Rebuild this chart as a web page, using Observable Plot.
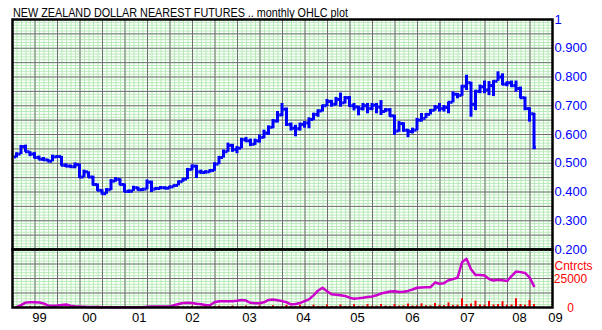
<!DOCTYPE html>
<html><head><meta charset="utf-8">
<script src="https://cdn.jsdelivr.net/npm/d3@7"></script>
<script src="https://cdn.jsdelivr.net/npm/@observablehq/plot@0.6"></script>
<style>
body{margin:0;background:#fff;}
#chart{position:relative;width:602px;height:330px;overflow:hidden;background:#fff;}
#title{position:absolute;left:13px;top:6px;font-size:13px;line-height:13px;white-space:nowrap;color:#000;
  font-family:"Liberation Sans",Arial,sans-serif;transform:scaleX(0.83);transform-origin:0 0;}
.panel{position:absolute;left:0;}
</style></head><body>
<div id="chart"><div id="title">NEW ZEALAND DOLLAR NEAREST FUTURES .. monthly OHLC plot</div></div>
<script>
// monthly bars, first bar = March 1999 (index 0), last = October 2008 (index 115)
const open = [.522,.532,.558,.540,.532,.520,.514,.512,.507,.522,
 .523,.493,.490,.488,.495,.452,.470,.452,.426,.406,
 .394,.408,.438,.444,.426,.402,.403,.415,.408,.410,
 .434,.410,.412,.415,.413,.418,.423,.436,.445,.478,
 .490,.470,.468,.470,.475,.497,.520,.540,.562,.548,
 .552,.582,.578,.566,.578,.590,.605,.625,.647,.668,
 .688,.635,.622,.620,.635,.640,.652,.670,.682,.700,
 .715,.705,.722,.710,.728,.700,.696,.690,.700,.690,
 .702,.695,.680,.686,.665,.612,.638,.615,.610,.615,
 .650,.656,.670,.684,.695,.690,.694,.712,.740,.736,
 .768,.780,.705,.750,.766,.755,.770,.785,.800,.775,
 .780,.770,.760,.728,.690,.672];
const high = [.536,.562,.563,.540,.537,.525,.520,.514,.528,.526,
 .524,.498,.494,.501,.497,.476,.470,.455,.428,.408,
 .412,.443,.450,.446,.428,.407,.420,.417,.412,.442,
 .438,.416,.419,.418,.420,.425,.438,.447,.482,.494,
 .493,.476,.474,.478,.502,.524,.546,.570,.566,.558,
 .587,.590,.584,.584,.598,.615,.630,.652,.680,.708,
 .692,.640,.632,.640,.645,.658,.674,.686,.702,.722,
 .719,.729,.744,.732,.732,.708,.698,.708,.708,.708,
 .708,.718,.690,.690,.667,.645,.641,.618,.622,.656,
 .673,.673,.687,.701,.708,.701,.713,.748,.743,.771,
 .806,.782,.754,.772,.786,.784,.787,.818,.811,.783,
 .786,.786,.765,.730,.693,.674];
const low = [.518,.530,.538,.523,.515,.511,.508,.504,.505,.518,
 .490,.485,.484,.481,.447,.450,.449,.421,.402,.390,
 .392,.405,.434,.422,.398,.395,.402,.403,.402,.408,
 .398,.406,.408,.408,.410,.415,.421,.434,.443,.474,
 .447,.462,.463,.466,.472,.495,.518,.538,.538,.533,
 .550,.572,.558,.562,.570,.585,.597,.620,.640,.662,
 .628,.612,.592,.612,.622,.620,.648,.660,.678,.697,
 .695,.700,.695,.706,.695,.682,.665,.682,.672,.683,
 .672,.666,.676,.660,.597,.608,.608,.589,.602,.613,
 .643,.655,.668,.681,.678,.678,.672,.710,.724,.733,
 .753,.660,.683,.742,.742,.735,.732,.785,.770,.766,
 .763,.747,.724,.683,.643,.547];
const close = [.532,.558,.540,.532,.520,.514,.512,.507,.522,.523,
 .493,.490,.488,.495,.452,.470,.452,.426,.406,.394,
 .408,.438,.444,.426,.402,.403,.415,.408,.410,.434,
 .410,.412,.415,.413,.418,.423,.436,.445,.478,.490,
 .470,.468,.470,.475,.497,.520,.540,.562,.548,.552,
 .582,.578,.566,.578,.590,.605,.625,.647,.668,.688,
 .635,.622,.620,.635,.640,.652,.670,.682,.700,.715,
 .705,.722,.710,.728,.700,.696,.690,.700,.690,.702,
 .695,.680,.686,.665,.612,.638,.615,.610,.615,.650,
 .656,.670,.684,.695,.690,.694,.712,.740,.736,.768,
 .780,.705,.750,.766,.755,.770,.785,.800,.775,.780,
 .770,.760,.728,.690,.672,.555];
// contracts line (magenta)
const contracts = [300,2000,4200,4600,4600,4400,3500,1800,1500,1500,
 2200,2600,1500,1000,800,700,500,500,400,300,
 300,300,300,300,300,300,300,300,300,700,
 800,800,800,800,800,2000,3000,3800,4000,3800,
 3200,2800,2200,2000,4500,5400,5400,5400,5400,5800,
 6400,6000,4000,3700,3700,4500,6500,6800,6300,5500,
 4500,2600,3000,3800,5500,7000,10500,14500,17000,14000,
 11500,11000,10500,10000,8500,7500,7900,8400,9000,9500,
 10500,12000,13000,13800,14000,13400,13500,14300,15500,17000,
 17200,17400,17500,21500,20500,21000,23500,24500,25600,39000,
 42000,33000,28000,28000,27500,24500,23300,24000,23500,22800,
 27000,31000,30500,29800,26000,18400];
// volume bars (red)
const volume = [900,300,350,900,300,350,1000,300,400,1000,
 350,400,1000,400,350,1000,350,400,1100,350,
 400,1000,400,350,900,400,350,900,300,400,
 900,350,400,900,400,400,1000,400,450,1100,
 450,400,1100,450,500,1200,500,500,1300,500,
 550,1300,500,550,1400,600,600,1500,700,700,
 1800,700,750,1900,800,800,2000,800,900,2200,
 900,900,2200,900,1000,2400,1000,1000,2500,1100,
 1100,2600,1200,1000,2500,1200,1400,3000,1300,1500,
 3200,1500,1400,3500,1800,1600,4000,1800,2000,7500,
 2500,3000,5500,2200,2000,5200,2200,2500,5000,2000,
 2200,7500,2500,2000,6000,2500];
const yearLabels = ["99","00","01","02","03","04","05","06","07","08","09"];
const yearLabelAt = [5.1,16.2,27.3,39.1,51.8,63.8,75.8,88,100.2,111.8,119.8];
const priceTicks = [1,0.9,0.8,0.7,0.6,0.5,0.4,0.3,0.2];
const priceLabels = ["1","0.900","0.800","0.700","0.600","0.500","0.400","0.300","0.200"];
const volTicks = [25000,0];
const volLabels = ["25000","0"];
const volTitle = "Cntrcts";

const bars = open.map((o,j)=>({j, open:o, high:high[j], low:low[j], close:close[j], oi:contracts[j], vol:volume[j]}));

const XD = [-0.89, 119.11];
const GREEN = "#b6eab6", GRAY = "#707070", BLUE = "#0000ff", MAG = "#cc00cc", RED = "#ff0000";
const FONT = "'Liberation Sans',Arial,sans-serif";
const monthGrid = d3.range(0,121).map(k=>XD[0]+k);
const majorX = monthGrid.filter((d,k)=>k%5===0);
const fineP = d3.range(20,101).map(k=>k/100);
const majorP = d3.range(4,21).map(k=>k*0.05);
const fineV = d3.range(0,21).map(k=>k*2500);
const majorV = [12500,25000,37500];
const style = {background:"transparent", overflow:"visible", fontFamily:FONT, fontSize:"13px"};

const topPlot = Plot.plot({
  width:602, height:250, marginTop:19, marginBottom:1, marginLeft:12, marginRight:50,
  x:{domain:XD, axis:null, label:null}, y:{domain:[0.2,1], axis:null, label:null}, style,
  marks:[
    Plot.ruleY(fineP,{stroke:GREEN}),
    Plot.ruleX(monthGrid,{stroke:GREEN}),
    Plot.ruleY(majorP,{stroke:GRAY}),
    Plot.ruleX(majorX,{stroke:GRAY}),
    Plot.ruleX(bars,{x:"j", y1:"low", y2:"high", stroke:BLUE, strokeWidth:3}),
    Plot.ruleY(bars,{y:"open", x1:d=>d.j-0.5, x2:d=>d.j, stroke:BLUE, strokeWidth:3}),
    Plot.ruleY(bars,{y:"close", x1:d=>d.j, x2:d=>d.j+0.5, stroke:BLUE, strokeWidth:3}),
    Plot.axisY({anchor:"right", label:null, ticks:priceTicks, tickFormat:d=>priceLabels[priceTicks.indexOf(d)], tickSize:0, tickPadding:2, fill:BLUE, fontSize:13, textAnchor:"start"}),
    Plot.frame({stroke:"#000", strokeWidth:2.5})
  ]
});
const botPlot = Plot.plot({
  width:602, height:82, marginTop:1, marginBottom:23, marginLeft:12, marginRight:50,
  x:{domain:XD, axis:null, label:null}, y:{domain:[0,50000], axis:null, label:null}, style,
  marks:[
    Plot.ruleY(fineV,{stroke:GREEN}),
    Plot.ruleX(monthGrid,{stroke:GREEN}),
    Plot.ruleY(majorV,{stroke:GRAY}),
    Plot.ruleX(majorX,{stroke:GRAY}),
    Plot.ruleX(bars,{x:"j", y:"vol", stroke:RED, strokeWidth:2}),
    Plot.line(bars,{x:"j", y:"oi", stroke:MAG, strokeWidth:2.5}),
    Plot.axisY({anchor:"right", label:null, ticks:volTicks, tickFormat:d=>volLabels[volTicks.indexOf(d)], tickSize:0, tickPadding:18, dy:1, fill:RED, fontSize:12, textAnchor:"middle"}),
    Plot.text([volTitle],{frameAnchor:"top-right", dx:2, dy:17, textAnchor:"start", lineAnchor:"middle", fill:RED, fontSize:12}),
    Plot.axisX({anchor:"bottom", label:null, ticks:yearLabelAt, tickFormat:d=>yearLabels[yearLabelAt.indexOf(d)], tickSize:0, tickPadding:5, fill:"#000", fontSize:13}),
    Plot.frame({stroke:"#000", strokeWidth:2.5})
  ]
});
topPlot.classList.add("panel"); topPlot.style.top = "0px";
botPlot.classList.add("panel"); botPlot.style.top = "248px";
const chart = document.getElementById("chart");
chart.appendChild(topPlot); chart.appendChild(botPlot);
</script>
</body></html>
